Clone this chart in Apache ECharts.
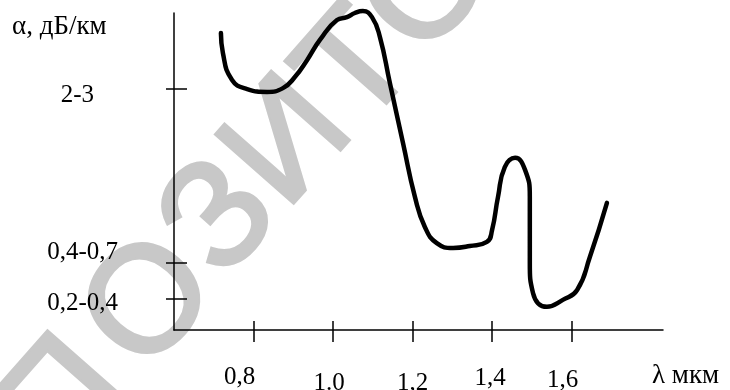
<!DOCTYPE html>
<html>
<head>
<meta charset="utf-8">
<script src="https://cdn.jsdelivr.net/npm/echarts@6/dist/echarts.min.js"></script>
<style>html,body{margin:0;padding:0;background:#fff}#c{width:730px;height:390px}</style>
</head>
<body>
<div id="c"></div>
<script>
// wavelength, µm
var lambda = [0.718,0.723,0.746,0.784,0.834,0.874,0.904,0.935,0.967,1.010,1.035,1.055,1.075,1.098,1.118,1.143,1.176,1.206,1.231,1.261,1.302,1.344,1.387,1.400,1.415,1.432,1.458,1.483,1.495,1.495,1.503,1.538,1.578,1.614,1.646,1.689];
// attenuation, arbitrary (non-linear) scale units
var alpha = [93.7,87.4,78.9,76.0,75.1,76.3,79.8,85.2,91.5,97.8,98.7,100.0,100.6,98.7,92.4,77.9,59.0,42.0,32.5,27.4,25.9,26.5,27.8,31.5,42.0,51.4,54.3,50.5,42.0,21.1,11.7,7.3,9.5,12.6,23.0,40.1];
var xTickValues = [0.8,1.0,1.2,1.4,1.6];
var xTickLabels = ['0,8','1.0','1,2','1,4','1,6'];
var yTickValues = [9.8,21.1,76];
var yTickLabels = ['0,2-0,4','0,4-0,7','2-3'];
var yAxisTitle = 'α, дБ/км';
var xAxisTitle = 'λ мкм';
var watermark = ['П','О','З','И','Т','О'];

var data = lambda.map(function(v,i){return [v, alpha[i]];});
var FONT = 'Liberation Serif';
var wmPos = [[66,404],[152,305],[222,220],[290,144],[360,70],[430,-10]];
var rot = 48.6*Math.PI/180;
var graphics = watermark.map(function(ch,i){
  return {type:'text', x:wmPos[i][0], y:wmPos[i][1], rotation:rot, z:-10, silent:true,
    style:{text:ch, fill:'#c8c8c8', stroke:'#c8c8c8', lineWidth:4, font:'150px "Liberation Sans"', textAlign:'center', textVerticalAlign:'middle'}};
});
graphics.push({type:'text', left:12, top:13, style:{text:yAxisTitle, fill:'#000', font:'27px "'+FONT+'"'}});
graphics.push({type:'text', left:652, top:362, style:{text:xAxisTitle, fill:'#000', font:'27px "'+FONT+'"'}});

var xRich = {
  r0:{fontFamily:FONT,fontSize:25,color:'#000',padding:[0,28,0,0]},
  r1:{fontFamily:FONT,fontSize:25,color:'#000',padding:[6,8,0,0]},
  r2:{fontFamily:FONT,fontSize:25,color:'#000',padding:[6,0,0,0]},
  r3:{fontFamily:FONT,fontSize:25,color:'#000',padding:[1,4,0,0]},
  r4:{fontFamily:FONT,fontSize:25,color:'#000',padding:[3,18,0,0]}
};
var yRich = {
  r0:{fontFamily:FONT,fontSize:25,color:'#000',padding:[10,0,0,0]},
  r1:{fontFamily:FONT,fontSize:25,color:'#000',padding:[0,0,22,0]},
  r2:{fontFamily:FONT,fontSize:25,color:'#000',padding:[12,24,0,0]}
};
var axisLineStyle = {color:'#000', width:1.5};
var chart = echarts.init(document.getElementById('c'), null, {renderer:'canvas'});
chart.setOption({
  animation:false,
  backgroundColor:'#fff',
  grid:{left:174, right:67, top:13, bottom:60, containLabel:false, outerBoundsMode:'none'},
  graphic:graphics,
  xAxis:[{
    type:'value', min:0.6, max:1.83,
    axisLine:{show:true, lineStyle:axisLineStyle},
    axisTick:{show:true, inside:false, length:12, lineStyle:axisLineStyle, customValues:xTickValues},
    axisLabel:{show:true, margin:35, customValues:xTickValues,
      formatter:function(v){var i=xTickValues.findIndex(function(t){return Math.abs(t-v)<1e-6;}); return '{r'+i+'|'+xTickLabels[i]+'}';},
      rich:xRich},
    splitLine:{show:false}
  },{
    type:'value', min:0.6, max:1.83, position:'bottom',
    axisLine:{show:false},
    axisTick:{show:true, inside:true, length:9, lineStyle:axisLineStyle, customValues:xTickValues},
    axisLabel:{show:false},
    splitLine:{show:false}
  }],
  yAxis:[{
    type:'value', min:0, max:100,
    axisLine:{show:true, lineStyle:axisLineStyle},
    axisTick:{show:true, inside:false, length:8, lineStyle:axisLineStyle, customValues:yTickValues},
    axisLabel:{show:true, margin:56, customValues:yTickValues,
      formatter:function(v){var i=yTickValues.findIndex(function(t){return Math.abs(t-v)<1e-6;}); return '{r'+i+'|'+yTickLabels[i]+'}';},
      rich:yRich},
    splitLine:{show:false}
  },{
    type:'value', min:0, max:100, position:'left',
    axisLine:{show:false},
    axisTick:{show:true, inside:true, length:13, lineStyle:axisLineStyle, customValues:yTickValues},
    axisLabel:{show:false},
    splitLine:{show:false}
  }],
  series:[{
    type:'line', data:data, xAxisIndex:0, yAxisIndex:0,
    smooth:0.5, showSymbol:false, clip:false,
    lineStyle:{color:'#000', width:4.5, cap:'round', join:'round'}
  }]
});
</script>
</body>
</html>
